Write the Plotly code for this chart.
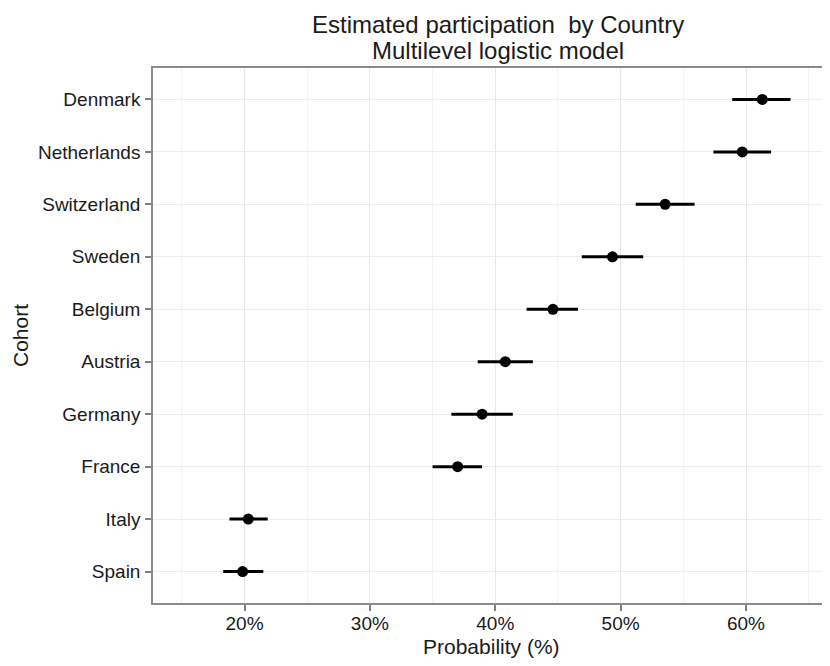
import plotly.graph_objects as go

countries = ["Spain", "Italy", "France", "Germany", "Austria", "Belgium",
             "Sweden", "Switzerland", "Netherlands", "Denmark"]
estimate = [19.85, 20.3, 37.0, 38.95, 40.8, 44.6, 49.35, 53.55, 59.7, 61.3]
lower = [18.3, 18.8, 35.0, 36.5, 38.6, 42.5, 46.9, 51.2, 57.4, 58.9]
upper = [21.5, 21.85, 38.95, 41.4, 43.0, 46.6, 51.8, 55.9, 62.0, 63.55]
x_ticks = [20, 30, 40, 50, 60]
x_tick_labels = ["20%", "30%", "40%", "50%", "60%"]
title_lines = ["Estimated participation&nbsp; by Country", "Multilevel logistic model"]

err_plus = [u - e for u, e in zip(upper, estimate)]
err_minus = [e - l for e, l in zip(estimate, lower)]

FONT = "Liberation Sans, Arial, sans-serif"
TXT = "#1a1a1a"

fig = go.Figure()
fig.add_trace(go.Scatter(
    x=estimate, y=countries, mode="markers",
    marker=dict(color="black", size=11),
    error_x=dict(type="data", array=err_plus, arrayminus=err_minus,
                 width=0, thickness=3, color="black", symmetric=False),
    showlegend=False, hoverinfo="skip",
))

annotations = [
    dict(text=title_lines[0], xref="paper", yref="paper", x=0.51, y=1.0822,
         xanchor="center", yanchor="middle", showarrow=False,
         font=dict(size=24, color=TXT, family=FONT)),
    dict(text=title_lines[1], xref="paper", yref="paper", x=0.51, y=1.0318,
         xanchor="center", yanchor="middle", showarrow=False,
         font=dict(size=24, color=TXT, family=FONT)),
    dict(text="Probability (%)", xref="paper", yref="paper", x=0.5, y=-0.0822,
         xanchor="center", yanchor="middle", showarrow=False,
         font=dict(size=21, color=TXT, family=FONT)),
]

fig.update_layout(
    width=830, height=666,
    margin=dict(l=145, r=8, t=60, b=71),
    paper_bgcolor="white", plot_bgcolor="white",
    font=dict(family=FONT, color=TXT),
    annotations=annotations,
    xaxis=dict(
        range=[12.7, 66.7],
        tickvals=x_ticks, ticktext=x_tick_labels,
        showgrid=True, gridcolor="#e8e8e8", gridwidth=1,
        minor=dict(dtick=5, tick0=0, showgrid=True, gridcolor="#f3f3f3", gridwidth=1),
        ticks="outside", ticklen=6, tickwidth=1.5, tickcolor="#7f7f7f",
        ticklabelstandoff=-4,
        showline=True, linecolor="#8c8c8c", linewidth=1.5, mirror=True,
        zeroline=False,
        tickfont=dict(size=19, color=TXT),
    ),
    yaxis=dict(
        categoryorder="array", categoryarray=countries,
        range=[-0.6, 9.6],
        showgrid=True, gridcolor="#ececec", gridwidth=1,
        ticks="outside", ticklen=6, tickwidth=1.5, tickcolor="#7f7f7f",
        ticklabelstandoff=1,
        showline=True, linecolor="#8c8c8c", linewidth=1.5,
        zeroline=False,
        tickfont=dict(size=19, color=TXT),
        title=dict(text="Cohort", font=dict(size=21, color=TXT), standoff=4),
    ),
)

fig.write_html("out.html")
